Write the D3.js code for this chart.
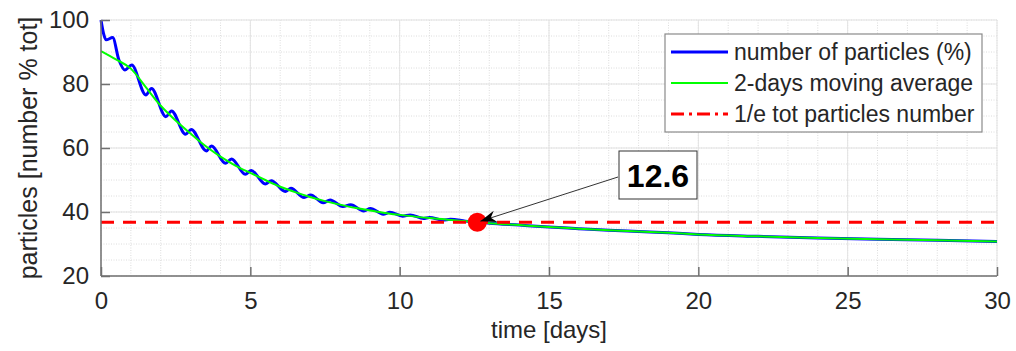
<!DOCTYPE html>
<html>
<head>
<meta charset="utf-8">
<script src="https://cdn.jsdelivr.net/npm/d3@7"></script>
<style>
  body { margin: 0; background: #fff; }
  text { font-family: Arial, "Liberation Sans", sans-serif; fill: #262626; }
</style>
</head>
<body>
<div id="chart"></div>
<script>
const blue = "#0000ff";
const green = "#00ff00";
const red = "#ff0000";
const gridColor = "#e3e3e3";
const axisColor = "#707070";

// number of particles (%), peaks and troughs
const particlesT = [0, 0.08, 0.17, 0.39, 0.6, 0.8, 1.03, 1.5, 1.69, 2.17, 2.36, 2.83, 3.02, 3.53, 3.7, 4.17, 4.37, 4.83, 5.03, 5.5, 5.7, 6.17, 6.36, 6.8, 7.02, 7.44, 7.67, 8.1, 8.36, 8.8, 9.02, 9.45, 9.67, 10.1, 10.35, 10.8, 11.0, 11.45, 11.7, 12.2, 12.6, 13, 14, 15, 16, 17, 18, 19, 20, 22, 24, 26, 28, 30];
const particlesV = [100, 96, 93.8, 94.5, 87.5, 84.4, 85.9, 76.6, 78.6, 69.8, 71.6, 64.3, 65.8, 59.1, 60.6, 55.2, 56.6, 51.8, 53, 48.75, 49.8, 46.4, 47.4, 44.5, 45.3, 42.9, 43.75, 41.7, 42.3, 40.3, 41.1, 39.3, 39.9, 38.7, 39.1, 38.0, 38.3, 37.5, 37.7, 37.15, 36.8, 36.5, 35.9, 35.3, 34.8, 34.3, 33.9, 33.5, 33.0, 32.4, 31.9, 31.5, 31.2, 30.8];

// 2-days moving average
const averageT = [0, 0.5, 1, 1.5, 2, 2.5, 3, 3.5, 4, 4.5, 5, 5.5, 6, 6.5, 7, 7.5, 8, 8.5, 9, 9.5, 10, 11, 12, 12.6, 13, 14, 15, 16, 17, 18, 19, 20, 22, 24, 26, 28, 30];
const averageV = [90.3, 87.7, 84.8, 79, 73.2, 68.6, 64.5, 60.6, 57.3, 54.5, 52.2, 50, 47.9, 46.2, 44.7, 43.4, 42.3, 41.3, 40.5, 39.7, 39.1, 38.1, 37.3, 36.8, 36.5, 35.9, 35.3, 34.8, 34.3, 33.9, 33.5, 33.0, 32.4, 31.9, 31.5, 31.2, 30.8];

const thresholdValue = 36.8;
const crossingT = 12.6;
const crossingLabel = "12.6";

const xTicks = [0, 5, 10, 15, 20, 25, 30];
const yTicks = [20, 40, 60, 80, 100];
const legendLabels = ["number of particles (%)", "2-days moving average", "1/e tot particles number"];

const width = 1016, height = 351;
const margin = { top: 20, right: 19, bottom: 75, left: 101 };

const svg = d3.select("#chart").append("svg")
  .attr("width", width)
  .attr("height", height);

const x = d3.scaleLinear().domain([0, 30]).range([margin.left, width - margin.right]);
const y = d3.scaleLinear().domain([20, 100]).range([height - margin.bottom, margin.top]);

// Minor grid (dotted) then major grid (solid)
const grid = svg.append("g").attr("class", "grid");
grid.selectAll(".vminor").data(d3.range(0, 31, 1)).enter().append("line")
  .attr("x1", d => x(d)).attr("x2", d => x(d))
  .attr("y1", y(20)).attr("y2", y(100))
  .attr("stroke", "#dcdcdc").attr("stroke-dasharray", "1,1.5");
grid.selectAll(".hminor").data(d3.range(20, 101, 5)).enter().append("line")
  .attr("x1", x(0)).attr("x2", x(30))
  .attr("y1", d => y(d)).attr("y2", d => y(d))
  .attr("stroke", "#dcdcdc").attr("stroke-dasharray", "1,1.5");
grid.selectAll(".vmajor").data(xTicks).enter().append("line")
  .attr("x1", d => x(d)).attr("x2", d => x(d))
  .attr("y1", y(20)).attr("y2", y(100))
  .attr("stroke", gridColor);
grid.selectAll(".hmajor").data(yTicks).enter().append("line")
  .attr("x1", x(0)).attr("x2", x(30))
  .attr("y1", d => y(d)).attr("y2", d => y(d))
  .attr("stroke", gridColor);

const line = d3.line()
  .x(d => x(d[0]))
  .y(d => y(d[1]))
  .curve(d3.curveMonotoneX);

svg.append("path")
  .datum(d3.zip(particlesT, particlesV))
  .attr("d", line)
  .attr("fill", "none")
  .attr("stroke", blue)
  .attr("stroke-width", 3)
  .attr("stroke-linejoin", "round");

svg.append("path")
  .datum(d3.zip(averageT, averageV))
  .attr("d", line)
  .attr("fill", "none")
  .attr("stroke", green)
  .attr("stroke-width", 2);

svg.append("line")
  .attr("x1", x(0)).attr("x2", x(30))
  .attr("y1", y(thresholdValue)).attr("y2", y(thresholdValue))
  .attr("stroke", red)
  .attr("stroke-width", 3)
  .attr("stroke-dasharray", "13,9");

svg.append("circle")
  .attr("cx", x(crossingT))
  .attr("cy", y(thresholdValue))
  .attr("r", 9.5)
  .attr("fill", red);

// Axes with inward ticks
const xAxis = svg.append("g")
  .attr("transform", `translate(0,${y(20)})`)
  .call(d3.axisBottom(x).tickValues(xTicks).tickSize(-9).tickPadding(16));
const yAxis = svg.append("g")
  .attr("transform", `translate(${x(0)},0)`)
  .call(d3.axisLeft(y).tickValues(yTicks).tickSize(-9).tickPadding(12));

[xAxis, yAxis].forEach(a => {
  a.select(".domain").attr("stroke", axisColor).attr("stroke-width", 1.5);
  a.selectAll(".tick line").attr("stroke", axisColor).attr("stroke-width", 1.5);
  a.selectAll(".tick text").attr("font-size", 24).attr("fill", "#262626")
    .attr("font-family", "Arial, 'Liberation Sans', sans-serif");
});
// MATLAB draws the axes without the outer tick ends
xAxis.select(".domain").attr("d", `M${x(0)},0H${x(30)}`);
yAxis.select(".domain").attr("d", `M0,${y(20)}V${y(100)}`);

svg.append("text")
  .attr("x", (x(0) + x(30)) / 2)
  .attr("y", 338)
  .attr("text-anchor", "middle")
  .attr("font-size", 24)
  .text("time [days]");

svg.append("text")
  .attr("transform", `translate(37,${(y(20) + y(100)) / 2}) rotate(-90)`)
  .attr("text-anchor", "middle")
  .attr("font-size", 25)
  .text("particles [number % tot]");

// Legend
const legend = svg.append("g").attr("transform", "translate(665,34)");
legend.append("rect")
  .attr("width", 317).attr("height", 98)
  .attr("fill", "#fff").attr("stroke", "#8a8a8a").attr("stroke-width", 1.2);
const legendStyles = [
  { color: blue, w: 3, dash: null },
  { color: green, w: 2, dash: null },
  { color: red, w: 3, dash: "13,5,3,5" }
];
legendLabels.forEach((label, i) => {
  const cy = 18 + i * 31;
  legend.append("line")
    .attr("x1", 6).attr("x2", 63)
    .attr("y1", cy).attr("y2", cy)
    .attr("stroke", legendStyles[i].color)
    .attr("stroke-width", legendStyles[i].w)
    .attr("stroke-dasharray", legendStyles[i].dash);
  legend.append("text")
    .attr("x", 69).attr("y", cy + 8)
    .attr("font-size", 23)
    .text(label);
});

// Annotation box and arrow
const tipX = x(crossingT) + 3, tipY = y(thresholdValue) - 1;
const startX = 618, startY = 177;
svg.append("line")
  .attr("x1", startX).attr("y1", startY)
  .attr("x2", tipX).attr("y2", tipY)
  .attr("stroke", "#333").attr("stroke-width", 1);

const ang = Math.atan2(tipY - startY, tipX - startX);
const head = [[0, 0], [-16, -6], [-11, 0], [-16, 6]].map(([u, v]) => [
  tipX + u * Math.cos(ang) - v * Math.sin(ang),
  tipY + u * Math.sin(ang) + v * Math.cos(ang)
]);
svg.append("path")
  .attr("d", "M" + head.map(p => p.join(",")).join("L") + "Z")
  .attr("fill", "#000");

svg.append("rect")
  .attr("x", 619).attr("y", 151)
  .attr("width", 78).attr("height", 48)
  .attr("fill", "#fff").attr("stroke", "#333").attr("stroke-width", 1);
svg.append("text")
  .attr("x", 658).attr("y", 187)
  .attr("text-anchor", "middle")
  .attr("font-size", 32)
  .attr("font-weight", "bold")
  .style("fill", "#000")
  .text(crossingLabel);
</script>
</body>
</html>
